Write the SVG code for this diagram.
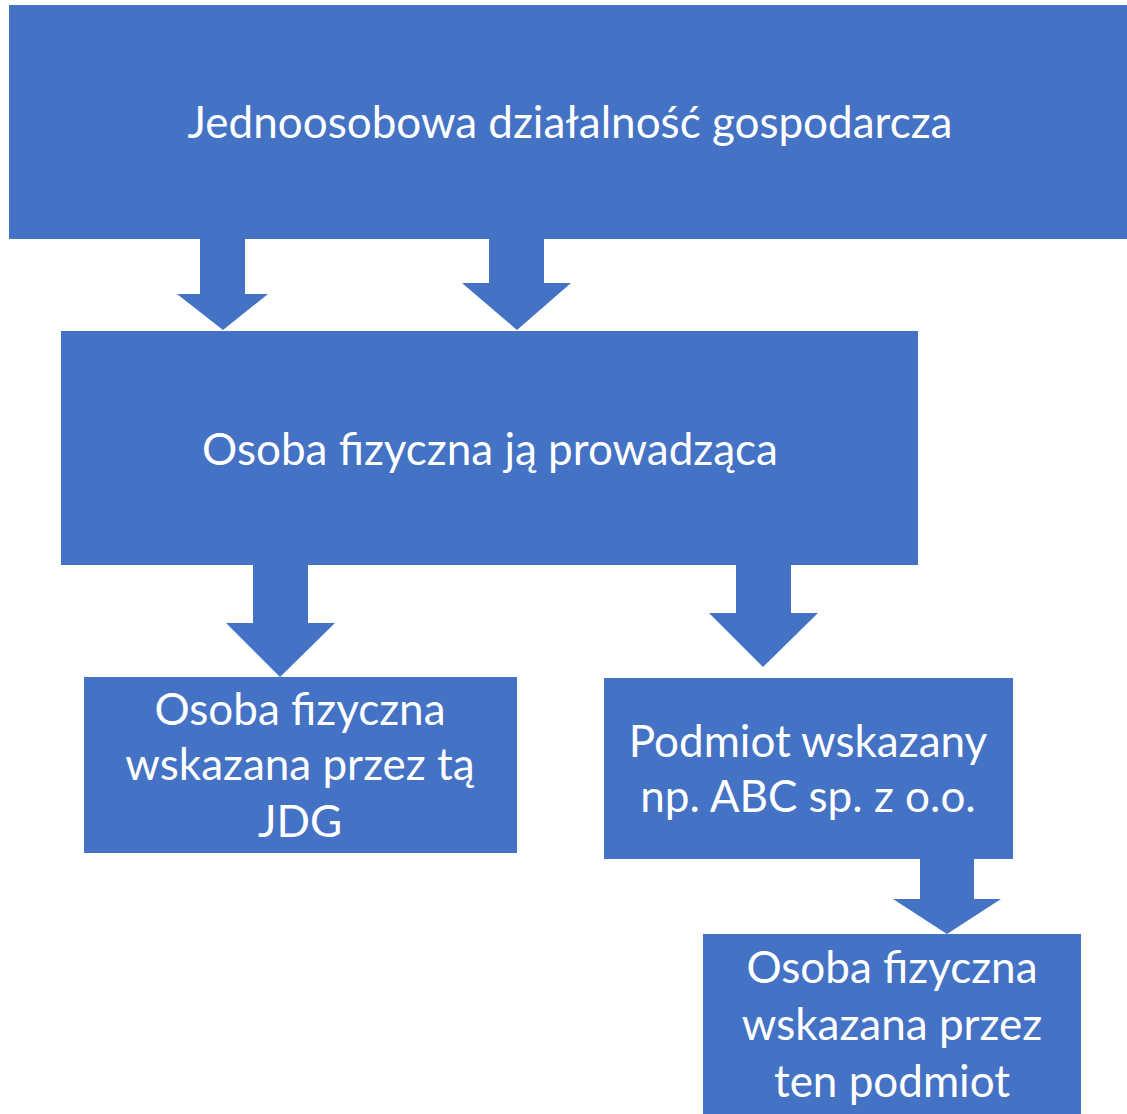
<svg xmlns="http://www.w3.org/2000/svg" width="1127" height="1114" viewBox="0 0 1127 1114">
<style>
.box{fill:#4472C4}
.arr{fill:#4472C4}
.t{font-family:Lato,"Liberation Sans",sans-serif;font-size:44px;fill:#FFFFFF;text-anchor:middle}
</style>
<rect width="1127" height="1114" fill="#FFFFFF"/>
<g id="connectors">
<polygon class="arr" points="200,239 245,239 245,294 268,294 223,330 177,294 200,294"/>
<polygon class="arr" points="489,239 544,239 544,283 571,283 517,330 462,283 489,283"/>
<polygon class="arr" points="253,565 308,565 308,623 335,623 280,677 226,623 253,623"/>
<polygon class="arr" points="736,565 791,565 791,613 818,613 763,667 709,613 736,613"/>
<polygon class="arr" points="920,859 974,859 974,899 1001,899 947,934 893,899 920,899"/>
</g>
<g id="node-jdg">
<rect class="box" x="9" y="5" width="1118" height="234"/>
<text class="t" x="570" y="138">Jednoosobowa działalność gospodarcza</text>
</g>
<g id="node-osoba">
<rect class="box" x="61" y="331" width="857" height="234"/>
<text class="t" x="490" y="465">Osoba fizyczna ją prowadząca</text>
</g>
<g id="node-wskazana-jdg">
<rect class="box" x="84" y="677" width="433" height="176"/>
<text class="t" x="300" y="725">Osoba fizyczna</text>
<text class="t" x="300" y="780">wskazana przez tą</text>
<text class="t" x="300" y="837">JDG</text>
</g>
<g id="node-podmiot">
<rect class="box" x="604" y="678" width="409" height="181"/>
<text class="t" x="808" y="757">Podmiot wskazany</text>
<text class="t" x="808" y="812">np. ABC sp. z o.o.</text>
</g>
<g id="node-wskazana-podmiot">
<rect class="box" x="703" y="934" width="378" height="180"/>
<text class="t" x="892" y="983">Osoba fizyczna</text>
<text class="t" x="892" y="1040">wskazana przez</text>
<text class="t" x="892" y="1097">ten podmiot</text>
</g>
</svg>
